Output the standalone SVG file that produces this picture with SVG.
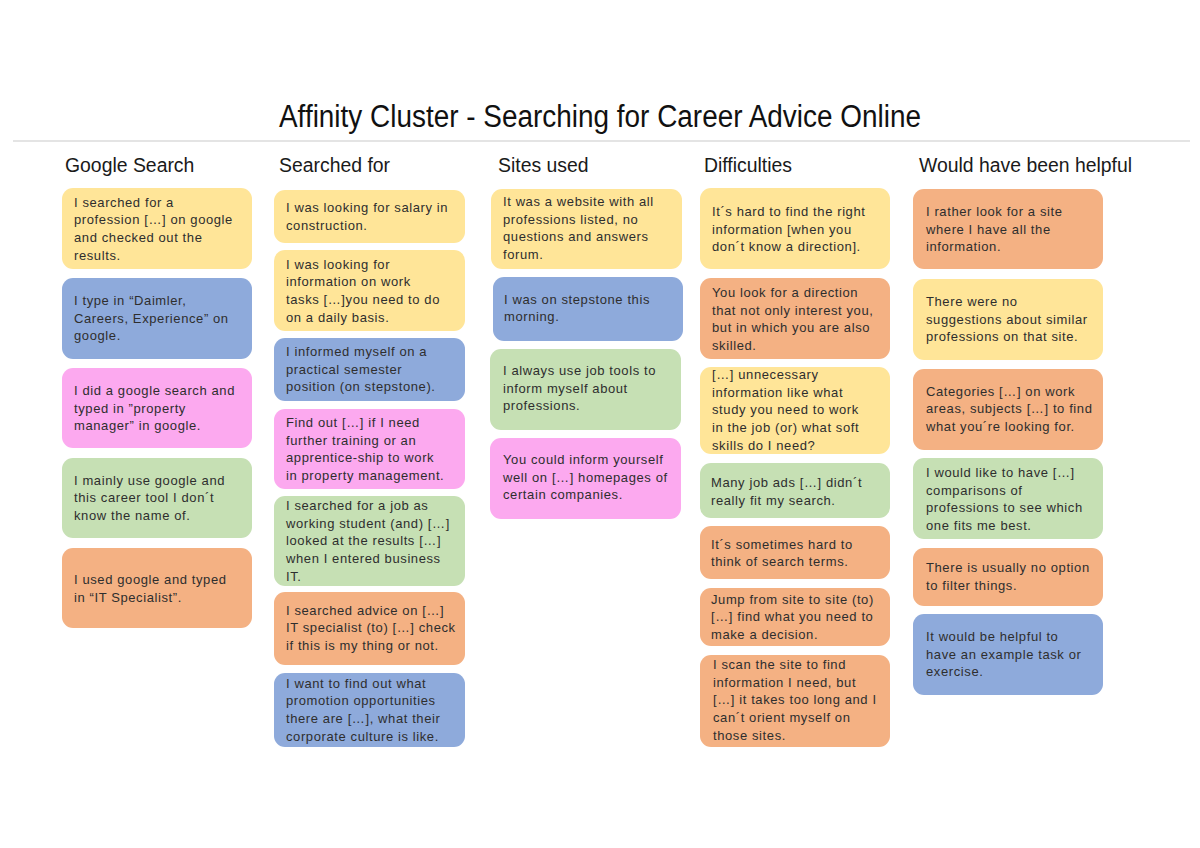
<svg xmlns="http://www.w3.org/2000/svg" width="1200" height="848" viewBox="0 0 1200 848">
<style>
.bg{fill:#ffffff}
.card{stroke:none}
.y{fill:#FFE598}
.b{fill:#8EAADB}
.p{fill:#FCA9EF}
.g{fill:#C6E0B4}
.o{fill:#F4B183}
.t{font-family:"Liberation Sans",Arial,sans-serif;font-size:13px;letter-spacing:0.6px;fill:#2e2e2e}
.h{font-family:"Liberation Sans",Arial,sans-serif;font-size:19.4px;fill:#1a1a1a}
.title{font-family:"Liberation Sans",Arial,sans-serif;font-size:31px;fill:#111111}
</style>
<rect class="bg" x="0" y="0" width="1200" height="848"/>
<g id="title">
<text class="title" x="279" y="127" textLength="642" lengthAdjust="spacingAndGlyphs">Affinity Cluster - Searching for Career Advice Online</text>
<line x1="13" y1="141" x2="1190" y2="141" stroke="#e4e4e4" stroke-width="2"/>
</g>
<g id="headers">
<text class="h" x="65" y="172">Google Search</text>
<text class="h" x="279" y="172">Searched for</text>
<text class="h" x="498" y="172">Sites used</text>
<text class="h" x="704" y="172">Difficulties</text>
<text class="h" x="919" y="172">Would have been helpful</text>
</g>
<g id="connectors"></g>

<g id="c1-1"><rect class="card y" x="62" y="188" width="190" height="81" rx="11"/>
<text class="t" x="74" y="206.5"><tspan x="74">I searched for a</tspan><tspan x="74" dy="17.7">profession […] on google</tspan><tspan x="74" dy="17.7">and checked out the</tspan><tspan x="74" dy="17.7">results.</tspan></text></g>
<g id="c1-2"><rect class="card b" x="62" y="278" width="190" height="81" rx="11"/>
<text class="t" x="74" y="305"><tspan x="74">I type in “Daimler,</tspan><tspan x="74" dy="17.7">Careers, Experience” on</tspan><tspan x="74" dy="17.7">google.</tspan></text></g>
<g id="c1-3"><rect class="card p" x="62" y="368" width="190" height="80" rx="11"/>
<text class="t" x="74" y="395"><tspan x="74">I did a google search and</tspan><tspan x="74" dy="17.7">typed in ”property</tspan><tspan x="74" dy="17.7">manager” in google.</tspan></text></g>
<g id="c1-4"><rect class="card g" x="62" y="458" width="190" height="80" rx="11"/>
<text class="t" x="74" y="484.5"><tspan x="74">I mainly use google and</tspan><tspan x="74" dy="17.7">this career tool I don´t</tspan><tspan x="74" dy="17.7">know the name of.</tspan></text></g>
<g id="c1-5"><rect class="card o" x="62" y="548" width="190" height="80" rx="11"/>
<text class="t" x="74" y="584"><tspan x="74">I used google and typed</tspan><tspan x="74" dy="17.7">in “IT Specialist”.</tspan></text></g>

<g id="c2-1"><rect class="card y" x="274" y="190" width="191" height="53" rx="11"/>
<text class="t" x="286" y="212"><tspan x="286">I was looking for salary in</tspan><tspan x="286" dy="17.7">construction.</tspan></text></g>
<g id="c2-2"><rect class="card y" x="274" y="250" width="191" height="81" rx="11"/>
<text class="t" x="286" y="268.5"><tspan x="286">I was looking for</tspan><tspan x="286" dy="17.7">information on work</tspan><tspan x="286" dy="17.7">tasks […]you need to do</tspan><tspan x="286" dy="17.7">on a daily basis.</tspan></text></g>
<g id="c2-3"><rect class="card b" x="274" y="338" width="191" height="63" rx="11"/>
<text class="t" x="286" y="356"><tspan x="286">I informed myself on a</tspan><tspan x="286" dy="17.7">practical semester</tspan><tspan x="286" dy="17.7">position (on stepstone).</tspan></text></g>
<g id="c2-4"><rect class="card p" x="274" y="409" width="191" height="80" rx="11"/>
<text class="t" x="286" y="427"><tspan x="286">Find out […] if I need</tspan><tspan x="286" dy="17.7">further training or an</tspan><tspan x="286" dy="17.7">apprentice-ship to work</tspan><tspan x="286" dy="17.7">in property management.</tspan></text></g>
<g id="c2-5"><rect class="card g" x="274" y="496" width="191" height="90" rx="11"/>
<text class="t" x="286" y="510"><tspan x="286">I searched for a job as</tspan><tspan x="286" dy="17.7">working student (and) […]</tspan><tspan x="286" dy="17.7">looked at the results […]</tspan><tspan x="286" dy="17.7">when I entered business</tspan><tspan x="286" dy="17.7">IT.</tspan></text></g>
<g id="c2-6"><rect class="card o" x="274" y="592" width="191" height="73" rx="11"/>
<text class="t" x="286" y="614.5"><tspan x="286">I searched advice on […]</tspan><tspan x="286" dy="17.7">IT specialist (to) […] check</tspan><tspan x="286" dy="17.7">if this is my thing or not.</tspan></text></g>
<g id="c2-7"><rect class="card b" x="274" y="673" width="191" height="74" rx="11"/>
<text class="t" x="286" y="687.5"><tspan x="286">I want to find out what</tspan><tspan x="286" dy="17.7">promotion opportunities</tspan><tspan x="286" dy="17.7">there are […], what their</tspan><tspan x="286" dy="17.7">corporate culture is like.</tspan></text></g>

<g id="c3-1"><rect class="card y" x="491" y="189" width="191" height="80" rx="11"/>
<text class="t" x="503" y="206"><tspan x="503">It was a website with all</tspan><tspan x="503" dy="17.7">professions listed, no</tspan><tspan x="503" dy="17.7">questions and answers</tspan><tspan x="503" dy="17.7">forum.</tspan></text></g>
<g id="c3-2"><rect class="card b" x="493" y="277" width="190" height="64" rx="11"/>
<text class="t" x="504" y="303.5"><tspan x="504">I was on stepstone this</tspan><tspan x="504" dy="17.7">morning.</tspan></text></g>
<g id="c3-3"><rect class="card g" x="490" y="349" width="191" height="81" rx="11"/>
<text class="t" x="503" y="375"><tspan x="503">I always use job tools to</tspan><tspan x="503" dy="17.7">inform myself about</tspan><tspan x="503" dy="17.7">professions.</tspan></text></g>
<g id="c3-4"><rect class="card p" x="490" y="438" width="191" height="81" rx="11"/>
<text class="t" x="503" y="464"><tspan x="503">You could inform yourself</tspan><tspan x="503" dy="17.7">well on […] homepages of</tspan><tspan x="503" dy="17.7">certain companies.</tspan></text></g>

<g id="c4-1"><rect class="card y" x="700" y="188" width="190" height="81" rx="11"/>
<text class="t" x="712" y="216"><tspan x="712">It´s hard to find the right</tspan><tspan x="712" dy="17.7">information [when you</tspan><tspan x="712" dy="17.7">don´t know a direction].</tspan></text></g>
<g id="c4-2"><rect class="card o" x="700" y="278" width="190" height="81" rx="11"/>
<text class="t" x="712" y="297"><tspan x="712">You look for a direction</tspan><tspan x="712" dy="17.7">that not only interest you,</tspan><tspan x="712" dy="17.7">but in which you are also</tspan><tspan x="712" dy="17.7">skilled.</tspan></text></g>
<g id="c4-3"><rect class="card y" x="700" y="367" width="190" height="87" rx="11"/>
<text class="t" x="712" y="379"><tspan x="712">[…] unnecessary</tspan><tspan x="712" dy="17.7">information like what</tspan><tspan x="712" dy="17.7">study you need to work</tspan><tspan x="712" dy="17.7">in the job (or) what soft</tspan><tspan x="712" dy="17.7">skills do I need?</tspan></text></g>
<g id="c4-4"><rect class="card g" x="700" y="463" width="190" height="55" rx="11"/>
<text class="t" x="711" y="487"><tspan x="711">Many job ads […] didn´t</tspan><tspan x="711" dy="17.7">really fit my search.</tspan></text></g>
<g id="c4-5"><rect class="card o" x="700" y="526" width="190" height="53" rx="11"/>
<text class="t" x="711" y="548.5"><tspan x="711">It´s sometimes hard to</tspan><tspan x="711" dy="17.7">think of search terms.</tspan></text></g>
<g id="c4-6"><rect class="card o" x="700" y="588" width="190" height="58" rx="11"/>
<text class="t" x="711" y="603.5"><tspan x="711">Jump from site to site (to)</tspan><tspan x="711" dy="17.7">[…] find what you need to</tspan><tspan x="711" dy="17.7">make a decision.</tspan></text></g>
<g id="c4-7"><rect class="card o" x="700" y="655" width="190" height="92" rx="11"/>
<text class="t" x="713" y="669"><tspan x="713">I scan the site to find</tspan><tspan x="713" dy="17.7">information I need,  but</tspan><tspan x="713" dy="17.7">[…] it takes too long and I</tspan><tspan x="713" dy="17.7">can´t orient myself on</tspan><tspan x="713" dy="17.7">those sites.</tspan></text></g>

<g id="c5-1"><rect class="card o" x="913" y="189" width="190" height="80" rx="11"/>
<text class="t" x="926" y="216"><tspan x="926">I rather look for a site</tspan><tspan x="926" dy="17.7">where I have all the</tspan><tspan x="926" dy="17.7">information.</tspan></text></g>
<g id="c5-2"><rect class="card y" x="913" y="279" width="190" height="81" rx="11"/>
<text class="t" x="926" y="306"><tspan x="926">There were no</tspan><tspan x="926" dy="17.7">suggestions about similar</tspan><tspan x="926" dy="17.7">professions on that site.</tspan></text></g>
<g id="c5-3"><rect class="card o" x="913" y="369" width="190" height="81" rx="11"/>
<text class="t" x="926" y="395.5"><tspan x="926">Categories […] on work</tspan><tspan x="926" dy="17.7">areas, subjects […] to find</tspan><tspan x="926" dy="17.7">what you´re looking for.</tspan></text></g>
<g id="c5-4"><rect class="card g" x="913" y="458" width="190" height="81" rx="11"/>
<text class="t" x="926" y="477"><tspan x="926">I would like to have […]</tspan><tspan x="926" dy="17.7">comparisons of</tspan><tspan x="926" dy="17.7">professions to see which</tspan><tspan x="926" dy="17.7">one fits me best.</tspan></text></g>
<g id="c5-5"><rect class="card o" x="913" y="548" width="190" height="58" rx="11"/>
<text class="t" x="926" y="572"><tspan x="926">There is usually no option</tspan><tspan x="926" dy="17.7">to filter things.</tspan></text></g>
<g id="c5-6"><rect class="card b" x="913" y="614" width="190" height="81" rx="11"/>
<text class="t" x="926" y="641"><tspan x="926">It would be helpful to</tspan><tspan x="926" dy="17.7">have an example task or</tspan><tspan x="926" dy="17.7">exercise.</tspan></text></g>
</svg>
